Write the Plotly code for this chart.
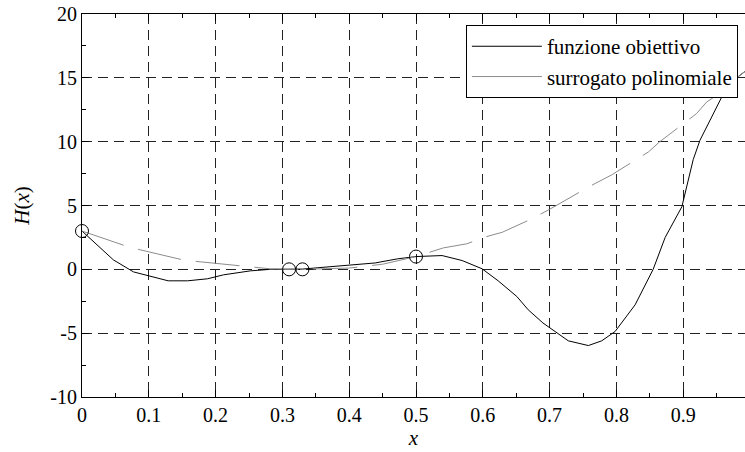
import plotly.graph_objects as go

# funzione obiettivo
x_obj = [0, 0.047, 0.077, 0.098, 0.129, 0.158, 0.188, 0.212, 0.252, 0.282, 0.31, 0.33,
         0.352, 0.397, 0.439, 0.472, 0.5, 0.539, 0.551, 0.569, 0.599, 0.623, 0.651, 0.668,
         0.69, 0.716, 0.728, 0.758, 0.778, 0.798, 0.828, 0.855, 0.873, 0.898, 0.915, 0.925,
         0.94, 0.963, 0.98, 1.0]
y_obj = [3.0, 0.74, -0.2, -0.5, -0.9, -0.9, -0.74, -0.43, -0.12, 0.0, 0.0, 0.02,
         0.12, 0.3, 0.5, 0.82, 1.0, 1.08, 0.9, 0.69, 0.04, -0.9, -2.13, -3.17,
         -4.2, -5.13, -5.6, -5.97, -5.6, -4.87, -2.78, 0.0, 2.5, 4.9, 8.6, 10.1,
         11.7, 14.05, 15.0, 15.8]

# surrogato polinomiale
x_sur = [0, 0.043, 0.065, 0.087, 0.155, 0.177, 0.242, 0.282, 0.31, 0.33, 0.4, 0.45,
         0.5, 0.541, 0.576, 0.606, 0.629, 0.671, 0.7, 0.73, 0.76, 0.793, 0.848, 0.865,
         0.92, 0.935, 0.955, 0.975, 1.0]
y_sur = [3.0, 2.25, 1.84, 1.53, 0.69, 0.59, 0.22, 0.04, 0.0, 0.0, 0.1, 0.4,
         1.0, 1.68, 2.0, 2.57, 2.9, 3.9, 4.7, 5.6, 6.5, 7.4, 9.2, 10.0,
         12.2, 13.1, 13.8, 14.8, 15.8]

# punti campionati
x_pts = [0, 0.31, 0.33, 0.5, 1.0]
y_pts = [3.0, 0.0, 0.0, 1.0, 15.8]

x_ticks = [0, 0.1, 0.2, 0.3, 0.4, 0.5, 0.6, 0.7, 0.8, 0.9]
x_ticklabels = ["0", "0.1", "0.2", "0.3", "0.4", "0.5", "0.6", "0.7", "0.8", "0.9"]
y_ticks = [-10, -5, 0, 5, 10, 15, 20]
y_ticklabels = ["-10", "-5", "0", "5", "10", "15", "20"]

FONT = "'Liberation Serif', 'DejaVu Serif', serif"
GRAY = "#8c8c8c"

fig = go.Figure()
fig.add_trace(go.Scatter(x=x_obj, y=y_obj, mode="lines", name="funzione obiettivo",
                         line=dict(color="black", width=1)))
fig.add_trace(go.Scatter(x=x_sur, y=y_sur, mode="lines", name="surrogato polinomiale",
                         showlegend=False,
                         line=dict(color=GRAY, width=1, dash="44px,15px")))
# legend-only entry (solid gray sample as in the reference legend)
fig.add_trace(go.Scatter(x=[None], y=[None], mode="lines", name="surrogato polinomiale",
                         line=dict(color=GRAY, width=1)))
fig.add_trace(go.Scatter(x=x_pts, y=y_pts, mode="markers", showlegend=False,
                         cliponaxis=False,
                         marker=dict(symbol="circle-open", size=13,
                                     color="black", line=dict(color="black", width=1))))

axis_common = dict(
    showline=True, linecolor="black", linewidth=1,
    ticks="inside", ticklen=7, tickcolor="black", tickwidth=1,
    showgrid=True, gridcolor="#222", gridwidth=1, griddash="10px,6px",
    zeroline=False,
    tickfont=dict(family=FONT, size=20, color="black"),
)

fig.update_xaxes(
    range=[0, 0.9925], tickvals=x_ticks, ticktext=x_ticklabels, mirror="ticks",
    minor=dict(ticks="inside", dtick=0.05, tick0=0, ticklen=4, tickcolor="black", showgrid=False),
    title=dict(text="<i>x</i>", font=dict(family=FONT, size=21, color="black"), standoff=5),
    **axis_common)
fig.update_yaxes(
    range=[-10, 20], tickvals=y_ticks, ticktext=y_ticklabels, mirror=False,
    minor=dict(ticks="inside", dtick=2.5, tick0=0, ticklen=4, tickcolor="black", showgrid=False),
    title=dict(text="<i>H</i>(<i>x</i>)", font=dict(family=FONT, size=21, color="black"), standoff=14),
    **axis_common)

fig.update_layout(
    width=745, height=452,
    margin=dict(l=82, r=0, t=14, b=55),
    paper_bgcolor="white", plot_bgcolor="white",
    font=dict(family=FONT, size=20, color="black"),
    legend=dict(x=0.579, y=0.971, xanchor="left", yanchor="top",
                bgcolor="white", bordercolor="black", borderwidth=1,
                font=dict(family=FONT, size=21, color="black"),
                itemwidth=70, tracegroupgap=0),
    showlegend=True,
)

fig.write_html("out.html")
